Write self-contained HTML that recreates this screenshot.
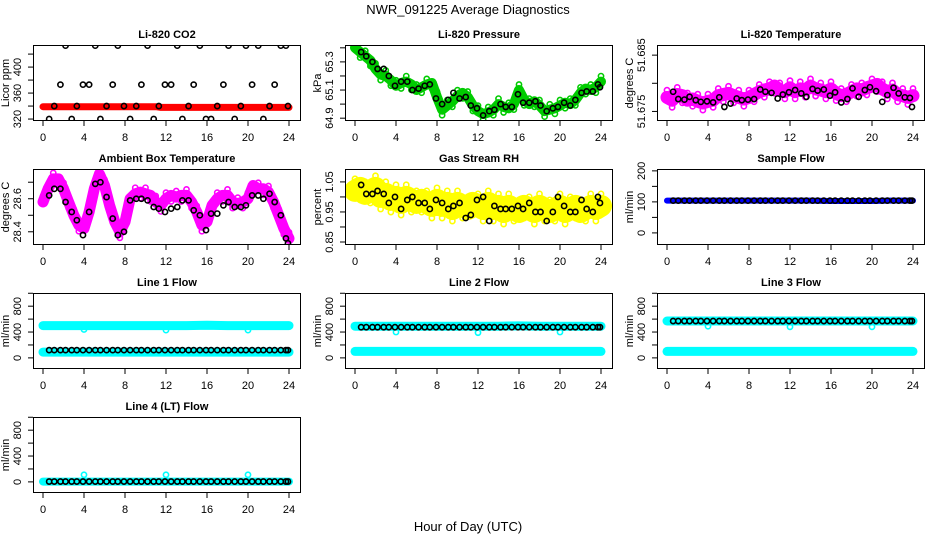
<!DOCTYPE html>
<html><head><meta charset="utf-8"><style>
body{margin:0;background:#fff;}
svg{display:block;font-family:"Liberation Sans",sans-serif;}
</style></head><body>
<svg id="c" width="936" height="540" viewBox="0 0 936 540">
<text x="468" y="14" text-anchor="middle" font-size="13">NWR_091225  Average Diagnostics</text>
<text x="468" y="531" text-anchor="middle" font-size="13">Hour of Day (UTC)</text>
</svg>
<script>
const xTicks=[0,4,8,12,16,20,24];
const halfT=[0,0.5,1,1.5,2,2.5,3,3.5,4,4.5,5,5.5,6,6.5,7,7.5,8,8.5,9,9.5,10,10.5,11,11.5,12,12.5,13,13.5,14,14.5,15,15.5,16,16.5,17,17.5,18,18.5,19,19.5,20,20.5,21,21.5,22,22.5,23,23.5,24];
const flowT=[0,2,4,6,8,10,12,14,16,18,20,22,24];
const outT=[4,12,20];
const blackT=[0.6,1.1,1.7,2.2,2.8,3.3,3.9,4.5,5.1,5.6,6.2,6.8,7.3,7.9,8.5,9.1,9.6,10.2,10.8,11.3,11.9,12.5,13.1,13.6,14.2,14.7,15.3,15.9,16.4,17.0,17.6,18.1,18.7,19.3,19.8,20.4,21.0,21.5,22.1,22.6,23.2,23.7,23.9];

const co2Red=[339,339,339,339,339,339,339,339,339,339,339,339,339,339,339,339,339,339,339,339,339,339,339,338,338,338,338,338,338,338,338,338,338,338,338,338,338,338,338,338,338,338,338,338,338,338,338,338,338];
const co2Black=[320,340,373,433,320,340,373,373,433,320,340,373,433,340,320,340,373,433,320,340,373,373,433,320,340,373,433,320,320,340,373,433,320,340,433,373,433,320,340,373,433,433,340];
const presGreen=[65.40,65.37,65.34,65.31,65.25,65.21,65.2,65.17,65.13,65.15,65.16,65.14,65.1,65.12,65.14,65.15,65.05,64.96,64.99,65.02,65.06,65.08,65.05,64.99,64.95,64.93,64.94,64.96,65.0,64.98,64.97,65.0,65.1,65.03,65.0,65.02,64.99,64.95,64.96,64.97,64.99,65.01,65.0,65.03,65.08,65.11,65.1,65.12,65.16];
const presBlack=[65.37,65.34,65.30,65.25,65.25,65.2,65.13,65.16,65.16,65.1,65.11,65.13,65.14,65.04,65.0,65.03,65.08,65.04,65.05,64.99,64.97,64.92,64.95,64.96,65.0,64.98,64.98,65.07,65.01,65.01,65.02,64.99,64.95,64.97,64.98,65.01,64.99,65.03,65.08,65.09,65.09,65.14,65.12];
const tempMag=[51.6775,51.677,51.678,51.6778,51.677,51.6772,51.6768,51.6765,51.6768,51.677,51.6778,51.678,51.6782,51.6778,51.6775,51.6772,51.6775,51.678,51.6785,51.6788,51.679,51.6795,51.6788,51.6785,51.6792,51.6785,51.679,51.6788,51.6795,51.679,51.6788,51.6785,51.679,51.6782,51.6778,51.678,51.6785,51.679,51.6788,51.6792,51.6795,51.6798,51.679,51.6785,51.6788,51.678,51.6778,51.6775,51.6778];
const tempBlack=[51.6785,51.6772,51.6771,51.6776,51.6770,51.6767,51.6768,51.6766,51.6775,51.6758,51.6764,51.6773,51.6770,51.6771,51.6772,51.6789,51.6785,51.6783,51.6773,51.6780,51.6784,51.6788,51.6782,51.6776,51.6790,51.6787,51.6789,51.6778,51.6784,51.6766,51.6772,51.6791,51.6776,51.6788,51.6793,51.6786,51.6767,51.6779,51.6792,51.6782,51.6775,51.6774,51.6758];
const ambMag=[28.58,28.66,28.72,28.72,28.66,28.58,28.5,28.44,28.42,28.52,28.66,28.75,28.68,28.56,28.46,28.4,28.46,28.6,28.63,28.64,28.63,28.62,28.58,28.56,28.6,28.62,28.61,28.62,28.62,28.58,28.52,28.44,28.46,28.56,28.6,28.62,28.62,28.58,28.57,28.58,28.6,28.68,28.66,28.66,28.64,28.58,28.5,28.42,28.36];
const ambBlack=[28.62,28.66,28.66,28.58,28.52,28.47,28.38,28.52,28.69,28.70,28.61,28.48,28.38,28.40,28.59,28.6,28.6,28.59,28.55,28.54,28.52,28.54,28.55,28.59,28.59,28.53,28.5,28.41,28.51,28.51,28.56,28.58,28.55,28.55,28.56,28.62,28.62,28.6,28.63,28.58,28.5,28.36,28.33];
const rhYel=[1.02,1.03,1.01,1.02,1.03,1.0,1.01,0.99,1.0,0.98,1.0,0.99,0.98,0.99,0.98,0.97,0.99,0.97,0.98,0.96,0.98,0.97,0.96,0.98,0.97,0.96,0.98,0.96,0.97,0.95,0.97,0.96,0.95,0.97,0.96,0.95,0.97,0.96,0.95,0.96,0.97,0.95,0.96,0.97,0.95,0.96,0.97,0.96,0.97];
const rhBlack=[1.04,1.01,1.01,1.02,1.01,0.98,1.0,0.96,0.99,1.0,0.98,0.98,0.96,0.99,0.98,0.96,0.97,0.98,0.93,0.94,0.99,1.0,0.92,0.97,0.96,0.96,0.96,0.97,0.96,0.98,0.95,0.95,0.92,0.95,1.0,0.97,0.95,0.95,0.99,0.96,0.95,1.0,0.98];
const sampBlue=[104,104,104,104,104,104,104,104,103,103,103,104,104];
const sampBlack=[104,104,104,104,104,104,104,104,104,104,104,104,104,104,104,104,104,104,104,104,104,104,104,104,104,104,104,104,104,104,104,104,104,104,104,104,104,104,104,104,104,104,104];
const l1Hi=[500,500,500,500,500,500,500,500,505,500,500,500,500];
const l1Lo=[90,90,90,90,90,90,90,90,90,90,90,90,90];
const l1Out=[440,430,430];
const l1Black=[120,120,120,120,120,120,120,120,120,120,120,120,120,120,120,120,120,120,120,120,120,120,120,120,120,120,120,120,120,120,120,120,120,120,120,120,120,120,120,120,120,120,120];
const l2Hi=[490,490,490,490,490,490,490,490,495,490,490,490,490];
const l2Lo=[100,100,100,100,100,100,100,100,100,100,100,100,100];
const l2Out=[400,390,400];
const l2Black=[475,475,475,475,475,475,475,475,475,475,475,475,475,475,475,475,475,475,475,475,475,475,475,475,475,475,475,475,475,475,475,475,475,475,475,475,475,475,475,475,475,475,475];
const l3Hi=[570,570,570,570,570,570,570,570,570,570,570,570,570];
const l3Lo=[100,100,100,100,100,100,100,100,100,100,100,100,100];
const l3Out=[490,480,480];
const l3Black=[570,570,570,570,570,570,570,570,570,570,570,570,570,570,570,570,570,570,570,570,570,570,570,570,570,570,570,570,570,570,570,570,570,570,570,570,570,570,570,570,570,570,570];
const l4Hi=[5,5,5,5,5,5,5,5,5,5,5,5,5];
const l4Out=[110,110,110];
const l4Black=[5,5,5,5,5,5,5,5,5,5,5,5,5,5,5,5,5,5,5,5,5,5,5,5,5,5,5,5,5,5,5,5,5,5,5,5,5,5,5,5,5,5,5];

const co2Ticks=[320,340,360,380,400,420], co2Labels=[320,360,400];
const presTicks=[64.9,65.0,65.1,65.2,65.3,65.4], presLabels=[64.9,65.1,65.3];
const tempTicks=[51.675,51.680,51.685], tempLabels=[51.675,51.685];
const ambTicks=[28.4,28.5,28.6,28.7], ambLabels=[28.4,28.6];
const rhTicks=[0.85,0.9,0.95,1.0,1.05], rhLabels=[0.85,0.95,1.05];
const sampTicks=[0,50,100,150,200], sampLabels=[0,100,200];
const flowTicks=[0,200,400,600,800,1000], flowLabels=[0,400,800];

const NS='http://www.w3.org/2000/svg', svg=document.getElementById('c');
function mk(tag,at,parent){const e=document.createElementNS(NS,tag);for(const k in at)e.setAttribute(k,at[k]);(parent||svg).appendChild(e);return e;}
const colL=[33,345,657], rowT=[45,169,293,417], W=268, H=76;
const panels=[
 {name:'co2',title:'Li-820 CO2',ylab:'Licor ppm',c:0,r:0,y0:317,y1:434,ticks:co2Ticks,labels:co2Labels,fmt:0,
  series:[{t:halfT,v:co2Red,col:'#ff0000',band:7},{t:blackT,v:co2Black,col:'#000'}]},
 {name:'pressure',title:'Li-820 Pressure',ylab:'kPa',c:1,r:0,y0:64.88,y1:65.42,ticks:presTicks,labels:presLabels,fmt:1,
  series:[{t:halfT,v:presGreen,col:'#00cc00',band:10,pts:1},{t:blackT,v:presBlack,col:'#000'}]},
 {name:'temperature',title:'Li-820 Temperature',ylab:'degrees C',c:2,r:0,y0:51.6733,y1:51.6868,ticks:tempTicks,labels:tempLabels,fmt:3,
  series:[{t:halfT,v:tempMag,col:'#ff00ff',band:13,pts:1},{t:blackT,v:tempBlack,col:'#000'}]},
 {name:'ambient-temp',title:'Ambient Box Temperature',ylab:'degrees C',c:0,r:1,y0:28.32,y1:28.78,ticks:ambTicks,labels:ambLabels,fmt:1,
  series:[{t:halfT,v:ambMag,col:'#ff00ff',band:11,pts:1},{t:blackT,v:ambBlack,col:'#000'}]},
 {name:'gas-rh',title:'Gas Stream RH',ylab:'percent',c:1,r:1,y0:0.84,y1:1.093,ticks:rhTicks,labels:rhLabels,fmt:2,
  series:[{t:halfT,v:rhYel,col:'#ffff00',band:22,pts:1},{t:blackT,v:rhBlack,col:'#000'}]},
 {name:'sample-flow',title:'Sample Flow',ylab:'ml/min',c:2,r:1,y0:-39,y1:206,ticks:sampTicks,labels:sampLabels,fmt:0,
  series:[{t:flowT,v:sampBlue,col:'#0000ff',band:6},{t:blackT,v:sampBlack,col:'#000'}]},
 {name:'line1-flow',title:'Line 1 Flow',ylab:'ml/min',c:0,r:2,y0:-172,y1:1004,ticks:flowTicks,labels:flowLabels,fmt:0,
  series:[{t:flowT,v:l1Hi,col:'#00ffff',band:9},{t:flowT,v:l1Lo,col:'#00ffff',band:9},{t:outT,v:l1Out,col:'#00ffff'},{t:blackT,v:l1Black,col:'#000'}]},
 {name:'line2-flow',title:'Line 2 Flow',ylab:'ml/min',c:1,r:2,y0:-172,y1:1004,ticks:flowTicks,labels:flowLabels,fmt:0,
  series:[{t:flowT,v:l2Hi,col:'#00ffff',band:9},{t:flowT,v:l2Lo,col:'#00ffff',band:9},{t:outT,v:l2Out,col:'#00ffff'},{t:blackT,v:l2Black,col:'#000'}]},
 {name:'line3-flow',title:'Line 3 Flow',ylab:'ml/min',c:2,r:2,y0:-172,y1:1004,ticks:flowTicks,labels:flowLabels,fmt:0,
  series:[{t:flowT,v:l3Hi,col:'#00ffff',band:9},{t:flowT,v:l3Lo,col:'#00ffff',band:9},{t:outT,v:l3Out,col:'#00ffff'},{t:blackT,v:l3Black,col:'#000'}]},
 {name:'line4-flow',title:'Line 4 (LT) Flow',ylab:'ml/min',c:0,r:3,y0:-172,y1:1004,ticks:flowTicks,labels:flowLabels,fmt:0,
  series:[{t:flowT,v:l4Hi,col:'#00ffff',band:8},{t:outT,v:l4Out,col:'#00ffff'},{t:blackT,v:l4Black,col:'#000'}]}
];
panels.forEach(p=>{
  const L=colL[p.c], T=rowT[p.r], B=T+H;
  const X=t=>L+10+t/24*246;
  const Y=v=>B-(v-p.y0)/(p.y1-p.y0)*H;
  const g=mk('g',{});
  
  
  const ti=mk('text',{x:L+W/2,y:T-7,'text-anchor':'middle','font-size':11,'font-weight':'bold'},g);ti.textContent=p.title;
  
  
  const cp=mk('clipPath',{id:'cp'+p.name},g);mk('rect',{x:L,y:T,width:W,height:H},cp);
  const plot=mk('g',{'clip-path':'url(#cp'+p.name+')'},g);
  p.series.forEach((s,si)=>{
    if(s.band){
      const d=s.t.map((t,i)=>(i?'L':'M')+X(t).toFixed(1)+','+Y(s.v[i]).toFixed(1)).join('');
      const pa=mk('path',{d:d,fill:'none',stroke:s.col,'stroke-width':s.band,'stroke-linejoin':'round','stroke-linecap':'round'},plot);
      
      
      if(!s.pts)return;
    }
    s.t.forEach((t,i)=>{
      const off=s.band?((i%2)?s.band*0.55:-s.band*0.55):0;
      const ci=mk('circle',{cx:X(t),cy:Y(s.v[i])+off,r:2.6,fill:'none',stroke:s.col,'stroke-width':1.6},plot);
      
      
    });
  });
  const fr=mk('rect',{x:L+0.5,y:T+0.5,width:W-1,height:H-1,fill:'none',stroke:'#000','stroke-width':1},g);
  
  
  xTicks.forEach(t=>{
    mk('line',{x1:X(t),x2:X(t),y1:B,y2:B+5,stroke:'#000'},g);
    const tx=mk('text',{x:X(t),y:B+20,'text-anchor':'middle','font-size':11},g);tx.textContent=t;
    
    
  });
  p.ticks.forEach(v=>{mk('line',{x1:L-5,x2:L,y1:Y(v),y2:Y(v),stroke:'#000'},g);});
  p.labels.forEach(v=>{
    const yy=Y(v), xx=L-12;
    const tx=mk('text',{x:xx,y:yy,'text-anchor':'middle','font-size':11,transform:'rotate(-90 '+xx+' '+yy+')'},g);
    tx.textContent=v.toFixed(p.fmt);
    
    
  });
  const yx=L-24, yy=T+H/2;
  const yl=mk('text',{x:yx,y:yy,'text-anchor':'middle','font-size':11,transform:'rotate(-90 '+yx+' '+yy+')'},g);
  yl.textContent=p.ylab;
  
  
});
</script>
</body></html>
